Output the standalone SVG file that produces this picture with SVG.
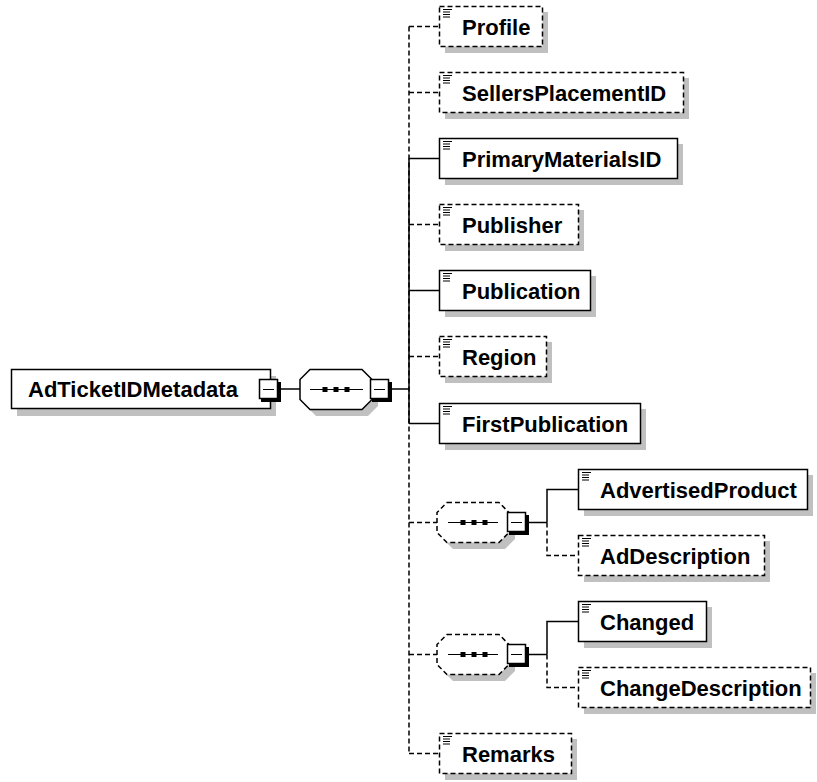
<svg xmlns="http://www.w3.org/2000/svg" width="817" height="782" viewBox="0 0 817 782">
<style>
  .shadow { fill: #c0c0c0; stroke: none; }
  .box { fill: #ffffff; stroke: #000000; stroke-width: 1.5; }
  .opt { stroke-dasharray: 5 3; }
  .lbl { font-family: "Liberation Sans", Arial, sans-serif; font-weight: bold; font-size: 22px; fill: #000000; }
  .icon { stroke: #000000; stroke-width: 1; }
  .conn { fill: none; stroke: #000000; stroke-width: 1.5; }
  .dash { stroke-dasharray: 5 3; }
  .exp { fill: #ffffff; stroke: #000000; stroke-width: 1.5; }
  .expsh { fill: #000000; }
</style>
<defs>
  <g id="ic">
    <line class="icon" x1="4" y1="3.5" x2="13" y2="3.5"/>
    <line class="icon" x1="4" y1="6" x2="11" y2="6"/>
    <line class="icon" x1="4" y1="8.5" x2="11" y2="8.5"/>
    <line class="icon" x1="4" y1="11" x2="11" y2="11"/>
  </g>
  <g id="minus">
    <rect class="expsh" x="2" y="3" width="20" height="20"/>
    <rect class="exp" x="0.5" y="0.5" width="18" height="19"/>
    <line class="icon" x1="4" y1="10.5" x2="15" y2="10.5" stroke-width="1.3"/>
  </g>
</defs>

<g id="connectors">
  <line class="conn" x1="279" y1="389" x2="300" y2="389"/>
  <line class="conn" x1="391" y1="389" x2="409" y2="389"/>
  <line class="conn dash" x1="409" y1="26.5" x2="409" y2="753.5"/>
  <line class="conn" x1="409" y1="158.5" x2="409" y2="423.5"/>
  <line class="conn dash" x1="409" y1="26.5" x2="439" y2="26.5"/>
  <line class="conn dash" x1="409" y1="92.5" x2="439" y2="92.5"/>
  <line class="conn" x1="409" y1="158.5" x2="439" y2="158.5"/>
  <line class="conn dash" x1="409" y1="224.5" x2="439" y2="224.5"/>
  <line class="conn" x1="409" y1="290.5" x2="439" y2="290.5"/>
  <line class="conn dash" x1="409" y1="356.5" x2="439" y2="356.5"/>
  <line class="conn" x1="409" y1="423.5" x2="439" y2="423.5"/>
  <line class="conn dash" x1="409" y1="522.5" x2="437" y2="522.5"/>
  <line class="conn dash" x1="409" y1="654.5" x2="437" y2="654.5"/>
  <line class="conn dash" x1="409" y1="753.5" x2="439" y2="753.5"/>
  <line class="conn" x1="528" y1="522.5" x2="547" y2="522.5"/>
  <polyline class="conn" points="547,522.5 547,489.5 578,489.5"/>
  <polyline class="conn dash" points="547,522.5 547,555.5 578,555.5"/>
  <line class="conn" x1="528" y1="654.5" x2="547" y2="654.5"/>
  <polyline class="conn" points="547,654.5 547,621.5 578,621.5"/>
  <polyline class="conn dash" points="547,654.5 547,687.5 578,687.5"/>
</g>

<g id="AdTicketIDMetadata">
  <rect class="shadow" x="17" y="376" width="259" height="40"/>
  <rect class="box" x="11.5" y="369.5" width="259" height="39"/>
  <text class="lbl" x="28" y="397">AdTicketIDMetadata</text>
  <use href="#minus" x="259" y="379"/>
</g>

<g id="sequence-main">
  <path class="shadow" d="M316,376 H368 L378,386 V406 L368,416 H316 L306,406 V386 Z"/>
  <path class="box" d="M310,369.5 H362 L372,379.5 V399.5 L362,409.5 H310 L300,399.5 V379.5 Z"/>
  <line class="icon" x1="310" y1="389.5" x2="363" y2="389.5" stroke-width="1.3"/>
  <rect x="322.5" y="387" width="5" height="5" fill="#000"/>
  <rect x="333.5" y="387" width="5" height="5" fill="#000"/>
  <rect x="344.5" y="387" width="5" height="5" fill="#000"/>
  <use href="#minus" x="370" y="379"/>
</g>

<g id="Profile">
  <rect class="shadow" x="445" y="12" width="103" height="41"/>
  <rect class="box opt" x="439.5" y="6.5" width="103" height="40"/>
  <use href="#ic" x="439" y="6"/>
  <text class="lbl" x="462" y="34.5">Profile</text>
</g>

<g id="SellersPlacementID">
  <rect class="shadow" x="445" y="78" width="244" height="41"/>
  <rect class="box opt" x="439.5" y="72.5" width="244" height="40"/>
  <use href="#ic" x="439" y="72"/>
  <text class="lbl" x="462" y="100.5">SellersPlacementID</text>
</g>

<g id="PrimaryMaterialsID">
  <rect class="shadow" x="445" y="144" width="238" height="41"/>
  <rect class="box" x="439.5" y="138.5" width="238" height="40"/>
  <use href="#ic" x="439" y="138"/>
  <text class="lbl" x="462" y="166.5">PrimaryMaterialsID</text>
</g>

<g id="Publisher">
  <rect class="shadow" x="445" y="210" width="139" height="41"/>
  <rect class="box opt" x="439.5" y="204.5" width="139" height="40"/>
  <use href="#ic" x="439" y="204"/>
  <text class="lbl" x="462" y="232.5">Publisher</text>
</g>

<g id="Publication">
  <rect class="shadow" x="445" y="276" width="151" height="41"/>
  <rect class="box" x="439.5" y="270.5" width="151" height="40"/>
  <use href="#ic" x="439" y="270"/>
  <text class="lbl" x="462" y="298.5">Publication</text>
</g>

<g id="Region">
  <rect class="shadow" x="445" y="342" width="107" height="41"/>
  <rect class="box opt" x="439.5" y="336.5" width="107" height="40"/>
  <use href="#ic" x="439" y="336"/>
  <text class="lbl" x="462" y="364.5">Region</text>
</g>

<g id="FirstPublication">
  <rect class="shadow" x="445" y="409" width="201" height="41"/>
  <rect class="box" x="439.5" y="403.5" width="201" height="40"/>
  <use href="#ic" x="439" y="403"/>
  <text class="lbl" x="462" y="431.5">FirstPublication</text>
</g>

<g id="sequence-1">
  <path class="shadow" d="M453,509 H505 L515,519 V539 L505,549 H453 L443,539 V519 Z"/>
  <path class="box opt" d="M447,502.5 H499 L509,512.5 V532.5 L499,542.5 H447 L437,532.5 V512.5 Z"/>
  <line class="icon" x1="448" y1="522.5" x2="498" y2="522.5" stroke-width="1.3"/>
  <rect x="460.5" y="520" width="5" height="5" fill="#000"/>
  <rect x="471.5" y="520" width="5" height="5" fill="#000"/>
  <rect x="482.5" y="520" width="5" height="5" fill="#000"/>
  <use href="#minus" x="507" y="512"/>
</g>

<g id="AdvertisedProduct">
  <rect class="shadow" x="584" y="475" width="229" height="41"/>
  <rect class="box" x="578.5" y="469.5" width="229" height="40"/>
  <use href="#ic" x="578" y="469"/>
  <text class="lbl" x="600" y="497.5">AdvertisedProduct</text>
</g>

<g id="AdDescription">
  <rect class="shadow" x="584" y="541" width="186" height="41"/>
  <rect class="box opt" x="578.5" y="535.5" width="186" height="40"/>
  <use href="#ic" x="578" y="535"/>
  <text class="lbl" x="600" y="563.5">AdDescription</text>
</g>

<g id="sequence-2">
  <path class="shadow" d="M453,641 H505 L515,651 V671 L505,681 H453 L443,671 V651 Z"/>
  <path class="box opt" d="M447,634.5 H499 L509,644.5 V664.5 L499,674.5 H447 L437,664.5 V644.5 Z"/>
  <line class="icon" x1="448" y1="654.5" x2="498" y2="654.5" stroke-width="1.3"/>
  <rect x="460.5" y="652" width="5" height="5" fill="#000"/>
  <rect x="471.5" y="652" width="5" height="5" fill="#000"/>
  <rect x="482.5" y="652" width="5" height="5" fill="#000"/>
  <use href="#minus" x="507" y="644"/>
</g>

<g id="Changed">
  <rect class="shadow" x="584" y="607" width="128" height="41"/>
  <rect class="box" x="578.5" y="601.5" width="128" height="40"/>
  <use href="#ic" x="578" y="601"/>
  <text class="lbl" x="600" y="629.5">Changed</text>
</g>

<g id="ChangeDescription">
  <rect class="shadow" x="584" y="673" width="232" height="41"/>
  <rect class="box opt" x="578.5" y="667.5" width="232" height="40"/>
  <use href="#ic" x="578" y="667"/>
  <text class="lbl" x="600" y="695.5">ChangeDescription</text>
</g>

<g id="Remarks">
  <rect class="shadow" x="445" y="739" width="132" height="41"/>
  <rect class="box opt" x="439.5" y="733.5" width="132" height="40"/>
  <use href="#ic" x="439" y="733"/>
  <text class="lbl" x="462" y="761.5">Remarks</text>
</g>
</svg>
